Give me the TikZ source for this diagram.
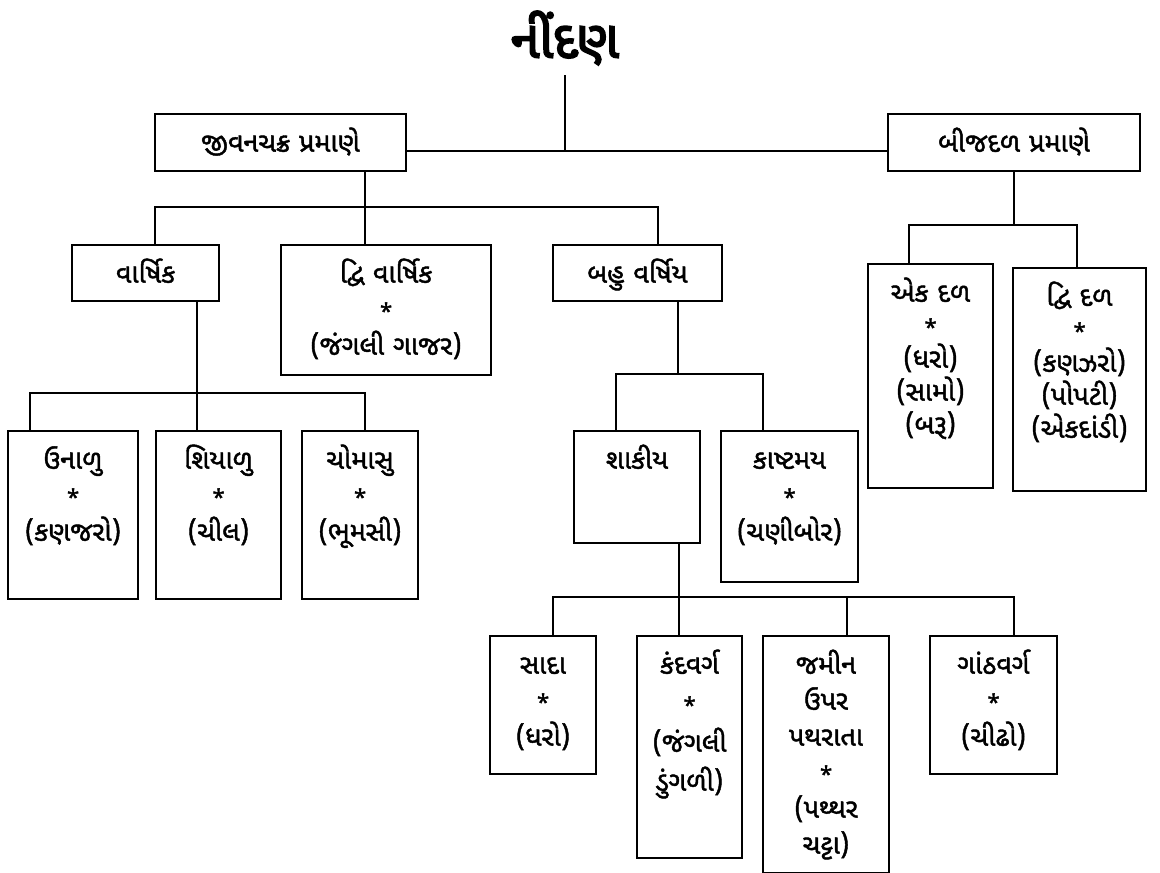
\documentclass[tikz,border=0pt]{standalone}
\usepackage{fontspec}
\newfontfamily\gujtxt[Script=Gujarati,FakeBold=1.6]{Noto Sans Gujarati UI}
\newfontfamily\gujtitre[Script=Gujarati,FakeBold=3.5]{Noto Sans Gujarati UI}
\newcommand\etoile{{\fontsize{22}{22}\selectfont *}}
\tikzset{
  boite/.style={draw, line width=1.5pt, inner sep=0pt, anchor=north, align=center,
    text height=38pt, font=\gujtxt\fontsize{27}{36}\selectfont},
  lien/.style={line width=1.5pt}
}
\begin{document}
\begin{tikzpicture}[x=1pt,y=-1pt]
        \useasboundingbox (0,0) rectangle (1160,873);

        % Titre
        \node (titre) at (565,38) {\gujtitre\fontsize{52}{52}\selectfont નીંદણ};
        \coordinate (racine) at (565,151);
        \draw[lien] (565,75) -- (racine);

        % Premier niveau
        \node[boite, text width=251pt, text depth=19pt] (cycle) at (280.5,113) {જીવનચક્ર પ્રમાણે};
        \node[boite, text width=252pt, text depth=19pt] (bijdal) at (1014,113) {બીજદળ પ્રમાણે};
        \draw[lien] (cycle.east |- racine) -- (bijdal.west |- racine);

        % Selon le cycle de vie
        \node[boite, text width=147pt, text depth=18pt] (varshik) at (145.5,244) {વાર્ષિક};
        \node[boite, text width=210pt, text depth=92pt] (dvivarshik) at (386,244) {દ્વિ વાર્ષિક\\\etoile\\(જંગલી ગાજર)};
        \node[boite, text width=169pt, text depth=18pt] (bahu) at (637.5,244) {બહુ વર્ષિય};
        \coordinate (b1) at (365,207);
        \draw[lien] (b1 |- cycle.south) -- (b1) -- (b1 |- dvivarshik.north);
        \draw[lien] (155,0 |- varshik.north) |- (658,0 |- b1) -- (658,0 |- bahu.north);

        % Saisons
        \node[boite, text width=130pt, text depth=130pt] (unalu) at (73,430) {ઉનાળુ\\\etoile\\(કણજરો)};
        \node[boite, text width=125pt, text depth=130pt] (shiyalu) at (218.5,430) {શિયાળુ\\\etoile\\(ચીલ)};
        \node[boite, text width=116pt, text depth=130pt] (chomasu) at (360,430) {ચોમાસુ\\\etoile\\(ભૂમસી)};
        \draw[lien] (197,0 |- varshik.south) -- (197,0 |- shiyalu.north);
        \draw[lien] (30,0 |- unalu.north) |- (365,393) -- (365,0 |- chomasu.north);

        % Vivaces
        \node[boite, text width=126pt, text depth=74pt] (shakiy) at (637,430) {શાકીય};
        \node[boite, text width=137pt, text depth=113pt] (kashtamay) at (789.5,430) {કાષ્ટમય\\\etoile\\(ચણીબોર)};
        \draw[lien] (678,0 |- bahu.south) -- (678,374);
        \draw[lien] (616,0 |- shakiy.north) |- (763,374) -- (763,0 |- kashtamay.north);

        % Herbacees
        \node[boite, text width=106pt, text depth=100pt] (sada) at (543,635) {સાદા\\\etoile\\(ધરો)};
        \node[boite, text width=105pt, text depth=184pt, font=\gujtxt\fontsize{27}{39}\selectfont] (kandvarg) at (689.5,635) {કંદવર્ગ\\\etoile\\(જંગલી\\ડુંગળી)};
        \node[boite, text width=126pt, text depth=199pt] (jamin) at (826,635) {જમીન\\ઉપર\\પથરાતા\\\etoile\\(પથ્થર\\ચટ્ટા)};
        \node[boite, text width=127pt, text depth=100pt] (ganthvarg) at (993.5,635) {ગાંઠવર્ગ\\\etoile\\(ચીઢો)};
        \draw[lien] (679,0 |- shakiy.south) -- (679,0 |- kandvarg.north);
        \draw[lien] (553,0 |- sada.north) |- (1014,597) -- (1014,0 |- ganthvarg.north);
        \draw[lien] (847,597) -- (847,0 |- jamin.north);

        % Selon les cotyledons
        \node[boite, text width=125pt, text depth=186pt, font=\gujtxt\fontsize{27}{33}\selectfont] (ekdal) at (930.5,263) {એક દળ\\\etoile\\(ધરો)\\(સામો)\\(બરૂ)};
        \node[boite, text width=133pt, text depth=185pt, font=\gujtxt\fontsize{27}{33}\selectfont] (dvidal) at (1079.5,267) {દ્વિ દળ\\\etoile\\(કણઝરો)\\(પોપટી)\\(એકદાંડી)};
        \draw[lien] (1014,0 |- bijdal.south) -- (1014,225);
        \draw[lien] (909,0 |- ekdal.north) |- (1077,225) -- (1077,0 |- dvidal.north);
\end{tikzpicture}
\end{document}
